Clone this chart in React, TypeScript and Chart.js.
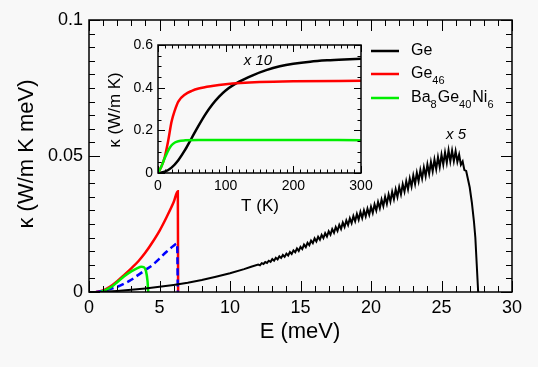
import React, { useEffect, useRef } from "react";
import { Chart, registerables } from "chart.js";
Chart.register(...registerables);

// ---------- Main plot data: spectral kappa vs E ----------
const geE = [0, 1, 2, 3, 4, 5, 6, 7, 8, 9, 10, 11, 11.5,
  12, 12.125, 12.25, 12.375, 12.5, 12.625, 12.75, 12.875,
  13, 13.125, 13.25, 13.375, 13.5, 13.625, 13.75, 13.875,
  14, 14.125, 14.25, 14.375, 14.5, 14.625, 14.75, 14.875,
  15, 15.125, 15.25, 15.375, 15.5, 15.625, 15.75, 15.875,
  16, 16.125, 16.25, 16.375, 16.5, 16.625, 16.75, 16.875,
  17, 17.125, 17.25, 17.375, 17.5, 17.625, 17.75, 17.875,
  18, 18.125, 18.25, 18.375, 18.5, 18.625, 18.75, 18.875,
  19, 19.125, 19.25, 19.375, 19.5, 19.625, 19.75, 19.875,
  20, 20.125, 20.25, 20.375, 20.5, 20.625, 20.75, 20.875,
  21, 21.125, 21.25, 21.375, 21.5, 21.625, 21.75, 21.875,
  22, 22.125, 22.25, 22.375, 22.5, 22.625, 22.75, 22.875,
  23, 23.125, 23.25, 23.375, 23.5, 23.625, 23.75, 23.875,
  24, 24.125, 24.25, 24.375, 24.5, 24.625, 24.75, 24.875,
  25, 25.125, 25.25, 25.375, 25.5, 25.625, 25.75, 25.875,
  26, 26.125, 26.25, 26.375, 26.5, 26.625, 26.75,
  27, 27.15, 27.3, 27.4, 27.5, 27.6];
const geK = [0, 0.0001, 0.0004, 0.0008, 0.0013, 0.0019, 0.0026, 0.0034, 0.0044, 0.0056, 0.0069, 0.0084, 0.0093,
  0.0101, 0.0098, 0.0106, 0.0103, 0.011, 0.0107, 0.0115, 0.0111,
  0.0121, 0.0115, 0.0126, 0.012, 0.0131, 0.0125, 0.0136, 0.0129,
  0.0141, 0.0134, 0.0147, 0.014, 0.0153, 0.0146, 0.016, 0.0151,
  0.0166, 0.0158, 0.0174, 0.0165, 0.0181, 0.0172, 0.0189, 0.018,
  0.0197, 0.0186, 0.0203, 0.0192, 0.021, 0.0198, 0.0216, 0.0204,
  0.0223, 0.0211, 0.0231, 0.0218, 0.0239, 0.0225, 0.0247, 0.0232,
  0.0255, 0.0239, 0.0263, 0.0246, 0.0271, 0.0253, 0.0279, 0.026,
  0.0287, 0.0266, 0.0294, 0.0272, 0.03, 0.0278, 0.0306, 0.0284,
  0.0313, 0.0291, 0.0322, 0.03, 0.0331, 0.0308, 0.034, 0.0316,
  0.035, 0.0324, 0.0359, 0.0333, 0.0368, 0.0341, 0.0377, 0.035,
  0.0386, 0.0359, 0.0396, 0.0369, 0.0407, 0.0378, 0.0417, 0.0388,
  0.0428, 0.0397, 0.0438, 0.0407, 0.0448, 0.0417, 0.0458, 0.0426,
  0.0469, 0.0435, 0.0478, 0.0444, 0.0487, 0.0452, 0.0496, 0.046,
  0.0505, 0.0469, 0.0513, 0.0476, 0.0521, 0.048, 0.052, 0.0481,
  0.0518, 0.0479, 0.0505, 0.0468, 0.048, 0.0448, 0.0445,
  0.0385, 0.033, 0.026, 0.02, 0.01, 0];

const ge46E = [0.5, 1, 1.5, 2, 2.5, 3, 3.5, 4, 4.5, 5, 5.5, 6, 6.3, 6.32];
const ge46K = [0, 0.0006, 0.002, 0.004, 0.0063, 0.0087, 0.0113, 0.0145, 0.0183, 0.0225, 0.0275, 0.033, 0.037, 0];

const blueE = [0.5, 1, 1.5, 2, 2.5, 3, 3.5, 4, 4.5, 5, 5.5, 6, 6.25, 6.3];
const blueK = [0, 0.0004, 0.0011, 0.0019, 0.0031, 0.0045, 0.0063, 0.0081, 0.0099, 0.0123, 0.0148, 0.017, 0.0178, 0];

const baE = [0.8, 1.2, 1.6, 2, 2.5, 3, 3.4, 3.7, 3.9, 4.05, 4.15, 4.2];
const baK = [0, 0.0008, 0.0019, 0.0036, 0.0058, 0.0076, 0.0087, 0.0093, 0.0091, 0.0075, 0.004, 0];

// ---------- Inset data: kappa vs T ----------
const insGeT = [0, 10, 20, 30, 40, 50, 60, 70, 80, 90, 100, 120, 140, 160, 180, 200, 225, 250, 275, 300];
const insGeK = [0, 0.006, 0.025, 0.06, 0.108, 0.165, 0.222, 0.275, 0.32, 0.357, 0.387, 0.428, 0.458, 0.482, 0.5, 0.512, 0.522, 0.528, 0.532, 0.535];

const insGe46T = [0, 5, 10, 15, 20, 25, 30, 40, 50, 60, 80, 100, 150, 200, 300];
const insGe46K = [0, 0.03, 0.075, 0.15, 0.24, 0.295, 0.335, 0.368, 0.385, 0.396, 0.408, 0.416, 0.426, 0.43, 0.432];

const insBaT = [0, 5, 10, 15, 20, 25, 30, 40, 60, 100, 200, 300];
const insBaK = [0, 0.03, 0.07, 0.105, 0.13, 0.143, 0.149, 0.153, 0.155, 0.155, 0.155, 0.154];

// ---------- Labels ----------
const mainXTitle = "E (meV)";
const mainYTitle = "κ (W/m K meV)";
const insXTitle = "T (K)";
const insYTitle = "κ (W/m K)";
const mainNote = "x 5";
const insNote = "x 10";
const legendParts: { t: string; sub?: boolean }[][] = [
  [{ t: "Ge" }],
  [{ t: "Ge" }, { t: "46", sub: true }],
  [{ t: "Ba" }, { t: "8", sub: true }, { t: "Ge" }, { t: "40", sub: true }, { t: "Ni" }, { t: "6", sub: true }],
];
const legendColors = ["#000000", "#ff0000", "#00ee00"];

const FONT = '"Liberation Sans", Arial, Helvetica, sans-serif';

const pts = (xs: number[], ys: number[]) => xs.map((x, i) => ({ x, y: ys[i] }));

function line(ctx: CanvasRenderingContext2D, x1: number, y1: number, x2: number, y2: number) {
  ctx.beginPath();
  ctx.moveTo(x1, y1);
  ctx.lineTo(x2, y2);
  ctx.stroke();
}

function drawFrameTicks(chart: any, xMinor: number, xMajor: number, yMinor: number, yMajor: number, majLen: number, minLen: number, lw: number) {
  const ctx: CanvasRenderingContext2D = chart.ctx;
  const { left, right, top, bottom } = chart.chartArea;
  const xs = chart.scales.x, ys = chart.scales.y;
  ctx.save();
  ctx.strokeStyle = "#000";
  ctx.lineWidth = lw;
  ctx.strokeRect(left, top, right - left, bottom - top);
  ctx.lineWidth = 1;
  const nx = Math.round((xs.max - xs.min) / xMinor);
  for (let i = 0; i <= nx; i++) {
    const v = xs.min + i * xMinor;
    const r = v / xMajor;
    const L = Math.abs(r - Math.round(r)) < 1e-6 ? majLen : minLen;
    const px = Math.round(xs.getPixelForValue(v)) + 0.5;
    line(ctx, px, bottom, px, bottom - L);
    line(ctx, px, top, px, top + L);
  }
  const ny = Math.round((ys.max - ys.min) / yMinor);
  for (let i = 0; i <= ny; i++) {
    const v = ys.min + i * yMinor;
    const r = v / yMajor;
    const L = Math.abs(r - Math.round(r)) < 1e-6 ? majLen : minLen;
    const py = Math.round(ys.getPixelForValue(v)) + 0.5;
    line(ctx, left, py, left + L, py);
    line(ctx, right, py, right - L, py);
  }
  ctx.restore();
}

const mainDecor = {
  id: "mainDecor",
  afterDraw(chart: any) {
    const ctx: CanvasRenderingContext2D = chart.ctx;
    drawFrameTicks(chart, 1, 5, 0.005, 0.05, 11, 6, 1.5);
    ctx.save();
    ctx.fillStyle = "#000";
    ctx.textAlign = "center";
    ctx.textBaseline = "middle";
    ctx.font = `22px ${FONT}`;
    ctx.fillText(mainXTitle, 300, 332);
    ctx.save();
    ctx.translate(27, 154);
    ctx.rotate(-Math.PI / 2);
    ctx.fillText(mainYTitle, 0, 0);
    ctx.restore();
    ctx.font = `italic 15px ${FONT}`;
    ctx.fillText(mainNote, 456, 135);
    // legend
    const ys = [51, 74, 98];
    legendParts.forEach((parts, i) => {
      const y = ys[i];
      ctx.strokeStyle = legendColors[i];
      ctx.lineWidth = 2.5;
      line(ctx, 371, y, 399, y);
      let x = 411;
      ctx.textAlign = "left";
      ctx.textBaseline = "middle";
      parts.forEach((p) => {
        if (p.sub) {
          ctx.font = `11px ${FONT}`;
          ctx.fillText(p.t, x, y + 7);
        } else {
          ctx.font = `16px ${FONT}`;
          ctx.fillText(p.t, x, y);
        }
        x += ctx.measureText(p.t).width + (p.sub ? 1 : 0);
      });
    });
    ctx.restore();
  },
};

const insetDecor = {
  id: "insetDecor",
  afterDraw(chart: any) {
    const ctx: CanvasRenderingContext2D = chart.ctx;
    drawFrameTicks(chart, 10, 100, 0.05, 0.2, 7, 3.5, 1.5);
    ctx.save();
    ctx.fillStyle = "#000";
    ctx.textAlign = "center";
    ctx.textBaseline = "middle";
    ctx.font = `17px ${FONT}`;
    ctx.fillText(insXTitle, 260, 206);
    ctx.save();
    ctx.translate(115, 110);
    ctx.rotate(-Math.PI / 2);
    ctx.fillText(insYTitle, 0, 0);
    ctx.restore();
    ctx.font = `italic 15px ${FONT}`;
    ctx.fillText(insNote, 258, 61);
    ctx.restore();
  },
};

const fmt = (v: number) => String(parseFloat(Number(v).toFixed(3)));

export default function App() {
  const mainRef = useRef<HTMLCanvasElement>(null);
  const insRef = useRef<HTMLCanvasElement>(null);

  useEffect(() => {
    const ds = (data: any, color: string, extra: any = {}) => ({
      data,
      borderColor: color,
      backgroundColor: color,
      borderWidth: 2.5,
      pointRadius: 0,
      fill: false,
      tension: 0,
      ...extra,
    });

    const main = new Chart(mainRef.current!, {
      type: "line",
      data: {
        datasets: [
          ds(pts(geE, geK), "#000000", { borderWidth: 2 }),
          ds(pts(baE, baK), "#00ee00", { cubicInterpolationMode: "monotone" }),
          ds(pts(blueE, blueK), "#0000ff", { borderDash: [7, 4], cubicInterpolationMode: "monotone" }),
          ds(pts(ge46E, ge46K), "#ff0000", { cubicInterpolationMode: "monotone" }),
        ],
      },
      options: {
        animation: false,
        responsive: false,
        devicePixelRatio: 1,
        layout: { padding: { top: 20, right: 26, left: 0, bottom: 0 } },
        plugins: { legend: { display: false }, tooltip: { enabled: false } },
        scales: {
          x: {
            type: "linear",
            min: 0,
            max: 30,
            grid: { display: false, drawTicks: false },
            border: { display: false },
            ticks: { stepSize: 5, padding: 5, color: "#000", font: { size: 18, family: FONT }, maxRotation: 0, autoSkip: false, callback: (v: any) => fmt(v) },
            afterFit: (s: any) => { s.height = 75; },
          },
          y: {
            type: "linear",
            min: 0,
            max: 0.1,
            grid: { display: false, drawTicks: false },
            border: { display: false },
            ticks: { stepSize: 0.05, padding: 6, color: "#000", font: { size: 18, family: FONT }, autoSkip: false, callback: (v: any) => fmt(v) },
            afterFit: (s: any) => { s.width = 89; },
          },
        },
      } as any,
      plugins: [mainDecor],
    });

    const inset = new Chart(insRef.current!, {
      type: "line",
      data: {
        datasets: [
          ds(pts(insBaT, insBaK), "#00ee00", { cubicInterpolationMode: "monotone" }),
          ds(pts(insGe46T, insGe46K), "#ff0000", { cubicInterpolationMode: "monotone" }),
          ds(pts(insGeT, insGeK), "#000000", { cubicInterpolationMode: "monotone" }),
        ],
      },
      options: {
        animation: false,
        responsive: false,
        devicePixelRatio: 1,
        layout: { padding: { top: 45, right: 177, left: 0, bottom: 0 } },
        plugins: { legend: { display: false }, tooltip: { enabled: false } },
        scales: {
          x: {
            type: "linear",
            min: 0,
            max: 300,
            grid: { display: false, drawTicks: false },
            border: { display: false },
            ticks: { stepSize: 100, padding: 5, color: "#000", font: { size: 14, family: FONT }, maxRotation: 0, autoSkip: false, callback: (v: any) => fmt(v) },
            afterFit: (s: any) => { s.height = 367 - 173; },
          },
          y: {
            type: "linear",
            min: 0,
            max: 0.6,
            grid: { display: false, drawTicks: false },
            border: { display: false },
            ticks: { stepSize: 0.2, padding: 5, color: "#000", font: { size: 14, family: FONT }, autoSkip: false, callback: (v: any) => fmt(v) },
            afterFit: (s: any) => { s.width = 158; },
          },
        },
      } as any,
      plugins: [insetDecor],
    });

    return () => {
      main.destroy();
      inset.destroy();
    };
  }, []);

  return (
    <div style={{ position: "fixed", left: 0, top: 0, width: 538, height: 367, background: "#f8f8f8", overflow: "hidden" }}>
      <canvas ref={mainRef} width={538} height={367} style={{ position: "absolute", left: 0, top: 0, width: 538, height: 367 }} />
      <canvas ref={insRef} width={538} height={367} style={{ position: "absolute", left: 0, top: 0, width: 538, height: 367 }} />
    </div>
  );
}
